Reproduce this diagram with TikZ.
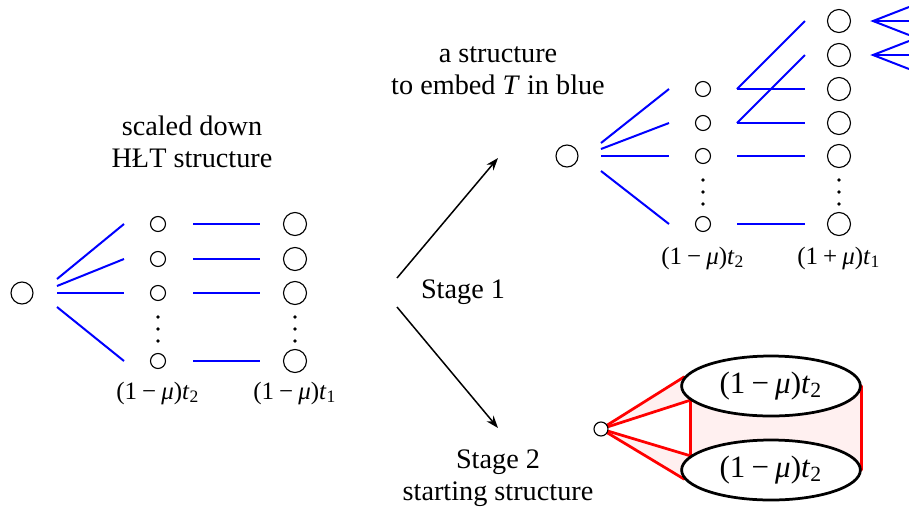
\documentclass[tikz,border=0pt]{standalone}
\usepackage{fontspec}
\setmainfont{Liberation Serif}
\usetikzlibrary{arrows.meta,calc,backgrounds,shapes.geometric}
\newcommand\mut[2]{(1\hspace{.2em}#1\hspace{.2em}\textit{μ})\textit{t}\textsubscript{#2}}

\begin{document}
\begin{tikzpicture}[x=0.4pt,y=-0.4pt,>={Stealth[length=5pt,width=3.6pt]},
 small/.style={draw,circle,inner sep=0pt,minimum size=6pt,line width=.45pt},
 big/.style={small,minimum size=9.2pt},
 tree/.style={draw=blue,line width=.8pt},
 glue/.style={draw=red,line width=1.1pt,line cap=round},
 blob/.style={draw,ellipse,fill=white,line width=1.1pt,minimum width=71.5pt,minimum height=24pt,inner sep=0pt,font=\fontsize{12.4}{14}\selectfont},
 heading/.style={align=center,font=\fontsize{11.3}{12.8}\selectfont},
 sizelbl/.style={font=\fontsize{10}{12}\selectfont},
 stage/.style={->,line width=.6pt}]
\useasboundingbox (0,0) rectangle (909,509);

% scaled down HLT structure
\node[heading] (hlt) at (192,142) {scaled down\\HŁT structure};
\node[big,minimum size=8.8pt] (L0) at (22,293) {};
\node[small] (La1) at (158,224) {};
\node[small] (La2) at (158,259) {};
\node[small] (La3) at (158,293) {};
\node[small] (La4) at (158,361) {};
\node[big] (Lb1) at (295,224) {};
\node[big] (Lb2) at (295,259) {};
\node[big] (Lb3) at (295,293) {};
\node[big] (Lb4) at (295,361) {};
\fill (158,317) circle (.75pt) (158,329) circle (.75pt) (158,341) circle (.75pt);
\fill (295,317) circle (.75pt) (295,329) circle (.75pt) (295,341) circle (.75pt);
\node[sizelbl] (Lt2) at (158,393) {\mut{−}{2}};
\node[sizelbl] (Lt1) at (295,393) {\mut{−}{1}};

\draw[tree] ($(L0)+(35,-14)$)--($(La1)+(-34,0)$);
\draw[tree] ($(L0)+(35,-7)$)--($(La2)+(-34,0)$);
\draw[tree] ($(L0)+(35,0)$)--($(La3)+(-34,0)$);
\draw[tree] ($(L0)+(35,14)$)--($(La4)+(-34,0)$);
\draw[tree] ($(La1)+(35,0)$)--($(Lb1)+(-35,0)$);
\draw[tree] ($(La2)+(35,0)$)--($(Lb2)+(-35,0)$);
\draw[tree] ($(La3)+(35,0)$)--($(Lb3)+(-35,0)$);
\draw[tree] ($(La4)+(35,0)$)--($(Lb4)+(-35,0)$);

% the two stages
\node[heading] (st1) at (463,292) {Stage 1};
\node[heading] (st2) at (498,478) {Stage 2\\starting structure};
\coordinate (split1) at (397,278);
\coordinate (split2) at (397,307);
\coordinate (up) at (498,158);
\coordinate (down) at (498,428);
\draw[stage] (split1)--(up);
\draw[stage] (split2)--(down);

% structure to embed T
\node[heading] (goal) at (498,71) {a structure\\to embed \textit{T} in blue};
\node[big,minimum size=8.8pt] (R0) at (567,156) {};
\node[small] (Rc1) at (703,89) {};
\node[small] (Rc2) at (703,123) {};
\node[small] (Rc3) at (703,156) {};
\node[small] (Rc4) at (703,224) {};
\node[big] (Rd1) at (839,21) {};
\node[big] (Rd2) at (839,55) {};
\node[big] (Rd3) at (839,89) {};
\node[big] (Rd4) at (839,123) {};
\node[big] (Rd5) at (839,156) {};
\node[big] (Rd6) at (839,224) {};
\fill (703,180) circle (.75pt) (703,192) circle (.75pt) (703,204) circle (.75pt);
\fill (839,180) circle (.75pt) (839,192) circle (.75pt) (839,204) circle (.75pt);
\node[sizelbl] (Rt2) at (703,258) {\mut{−}{2}};
\node[sizelbl] (Rt1) at (839,258) {\mut{+}{1}};

\draw[tree] ($(R0)+(34,-13)$)--($(Rc1)+(-34,0)$);
\draw[tree] ($(R0)+(34,-7)$)--($(Rc2)+(-34,0)$);
\draw[tree] ($(R0)+(34,0)$)--($(Rc3)+(-34,0)$);
\draw[tree] ($(R0)+(34,15)$)--($(Rc4)+(-34,0)$);
\draw[tree] ($(Rc1)+(34,0)$)--($(Rd3)+(-34,0)$);
\draw[tree] ($(Rc2)+(34,0)$)--($(Rd4)+(-34,0)$);
\draw[tree] ($(Rc3)+(34,0)$)--($(Rd5)+(-34,0)$);
\draw[tree] ($(Rc4)+(34,0)$)--($(Rd6)+(-34,0)$);
\draw[tree] ($(Rc1)+(34,0)$)--($(Rd1)+(-34,0)$);
\draw[tree] ($(Rc2)+(34,0)$)--($(Rd2)+(-34,0)$);
\draw[tree] ($(Rd1)+(70,-14)$)--($(Rd1)+(34,0)$)--($(Rd1)+(70,14)$);
\draw[tree] ($(Rd1)+(34,0)$)--($(Rd1)+(70,0)$);
\draw[tree] ($(Rd2)+(70,-14)$)--($(Rd2)+(34,0)$)--($(Rd2)+(70,14)$);
\draw[tree] ($(Rd2)+(34,0)$)--($(Rd2)+(70,0)$);

% stage 2 starting structure
\node[small,fill=white,minimum size=5.6pt] (S) at (601,429) {};
\node[blob] (E1) at (771,386) {\mut{−}{2}};
\node[blob] (E2) at (771,470) {\mut{−}{2}};
\begin{scope}[on background layer]
\fill[red!6] (S.center)--(E1.174)--(E1.190)--cycle;
\fill[red!6] (S.center)--(E2.170)--(E2.186)--cycle;
\fill[red!6] (E1.190)--(E1.east)--(E2.east)--(E2.170)--cycle;
\draw[glue] (S)--(E1.174);
\draw[glue] (S)--(E1.190);
\draw[glue] (S)--(E2.170);
\draw[glue] (S)--(E2.186);
\draw[glue] (E1.190)--(E2.170);
\draw[glue] (E1.east)--(E2.east);
\end{scope}
\end{tikzpicture}
\end{document}
